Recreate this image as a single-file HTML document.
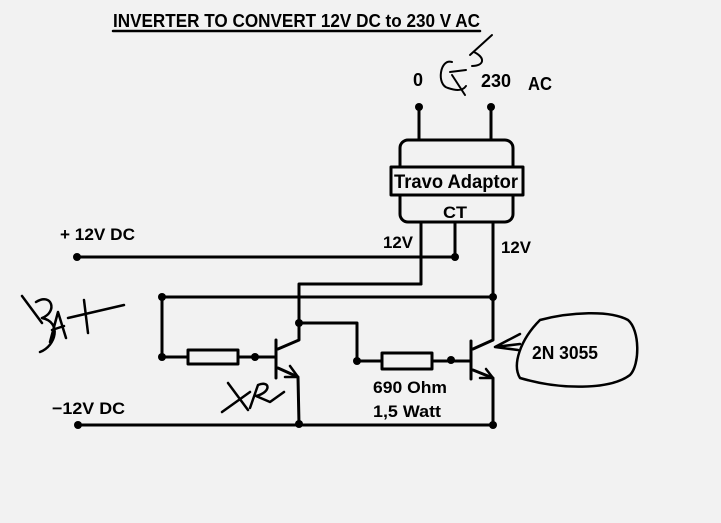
<!DOCTYPE html>
<html><head><style>body{margin:0;background:#f2f2f2}svg{display:block}text{font-family:"Liberation Sans Narrow","Liberation Sans",sans-serif;font-weight:bold;fill:#000}</style></head><body>
<svg width="721" height="523" viewBox="0 0 721 523" xmlns="http://www.w3.org/2000/svg">
<rect width="721" height="523" fill="#f2f2f2"/>
<g stroke="#000" stroke-width="3" fill="none" stroke-linecap="round" stroke-linejoin="round">
<text x="113" y="27" font-size="18" textLength="367" lengthAdjust="spacingAndGlyphs" stroke="none">INVERTER TO CONVERT 12V DC to 230 V AC</text>
<line x1="113" y1="31" x2="480" y2="31" stroke-width="2.5"/>
<line x1="419" y1="107" x2="419" y2="140"/><line x1="491" y1="107" x2="491" y2="140"/>
<rect x="400" y="140" width="113" height="82" rx="8"/>
<rect x="391" y="167" width="132" height="28" fill="#f2f2f2"/>
<line x1="421" y1="222" x2="421" y2="284"/><line x1="455" y1="222" x2="455" y2="257"/><line x1="493" y1="222" x2="493" y2="297"/>
<line x1="77" y1="257" x2="455" y2="257"/>
<polyline points="421,284 299,284 299,340 278,349"/>
<line x1="162" y1="297" x2="493" y2="297"/>
<polyline points="162,297 162,357 188,357"/>
<rect x="188" y="350" width="50" height="14"/>
<line x1="238" y1="357" x2="276" y2="357"/>
<line x1="276" y1="340" x2="276" y2="378"/>
<polyline points="278,368 298,377 299,424"/>
<polyline points="290,366 298,377 285,377" stroke-width="2.5"/>
<polyline points="299,323 357,323 357,361 382,361"/>
<rect x="382" y="353" width="50" height="16"/>
<line x1="432" y1="361" x2="471" y2="361"/>
<line x1="471" y1="341" x2="471" y2="379"/>
<polyline points="473,349 493,340 493,297"/>
<polyline points="473,370 493,378 493,425"/>
<polyline points="486,369 493,378 480,378" stroke-width="2.5"/>
<line x1="78" y1="425" x2="493" y2="425"/>
<path d="M495,347 L520,334 M495,347 L518,350 M495,347 L520,344" stroke-width="2.5"/>
<path d="M540,320 C570,312 610,310 628,320 C640,330 640,365 630,375 C610,390 560,390 520,378 C512,365 520,340 540,320 Z" stroke-width="2.5"/>
<path d="M22,296 L42,323 M36,302 C52,292 58,312 42,318 C62,322 56,346 40,352 M50,342 L58,312 L66,338 M52,330 L64,326 M68,318 L124,305 M84,300 L88,333" stroke-width="2.5"/>
<path d="M222,412 L250,392 M228,383 L248,410 M250,408 L258,385 C270,380 272,392 256,396 L270,402 L284,392" stroke-width="2.5"/>
<path d="M452,62 C440,58 436,85 448,88 C454,90 462,92 466,86 M450,72 L466,70 M452,75 L465,95 M470,55 L492,35 M474,52 C486,58 484,66 472,66" stroke-width="2"/>
</g>
<g fill="#000">
<circle cx="419" cy="107" r="4"/><circle cx="491" cy="107" r="4"/>
<circle cx="455" cy="257" r="4"/><circle cx="77" cy="257" r="4"/>
<circle cx="162" cy="297" r="4"/><circle cx="493" cy="297" r="4"/>
<circle cx="162" cy="357" r="4"/><circle cx="255" cy="357" r="4"/>
<circle cx="299" cy="323" r="4"/><circle cx="357" cy="361" r="4"/><circle cx="451" cy="360" r="4"/>
<circle cx="78" cy="425" r="4"/><circle cx="299" cy="424" r="4"/><circle cx="493" cy="425" r="4"/>
</g>
<text x="394" y="188" font-size="19" textLength="124" lengthAdjust="spacingAndGlyphs">Travo Adaptor</text>
<text x="443" y="218" font-size="17" textLength="24" lengthAdjust="spacingAndGlyphs">CT</text>
<text x="413" y="86" font-size="18">0</text>
<text x="481" y="87" font-size="18" textLength="30" lengthAdjust="spacingAndGlyphs">230</text>
<text x="528" y="90" font-size="18" textLength="24" lengthAdjust="spacingAndGlyphs">AC</text>
<text x="383" y="248" font-size="17" textLength="30" lengthAdjust="spacingAndGlyphs">12V</text>
<text x="501" y="253" font-size="17" textLength="30" lengthAdjust="spacingAndGlyphs">12V</text>
<text x="60" y="240" font-size="17" textLength="75" lengthAdjust="spacingAndGlyphs">+ 12V DC</text>
<text x="52" y="414" font-size="17" textLength="73" lengthAdjust="spacingAndGlyphs">−12V DC</text>
<text x="373" y="393" font-size="17" textLength="74" lengthAdjust="spacingAndGlyphs">690 Ohm</text>
<text x="373" y="417" font-size="17" textLength="68" lengthAdjust="spacingAndGlyphs">1,5 Watt</text>
<text x="532" y="359" font-size="18" textLength="66" lengthAdjust="spacingAndGlyphs">2N 3055</text>
</svg>
</body></html>
